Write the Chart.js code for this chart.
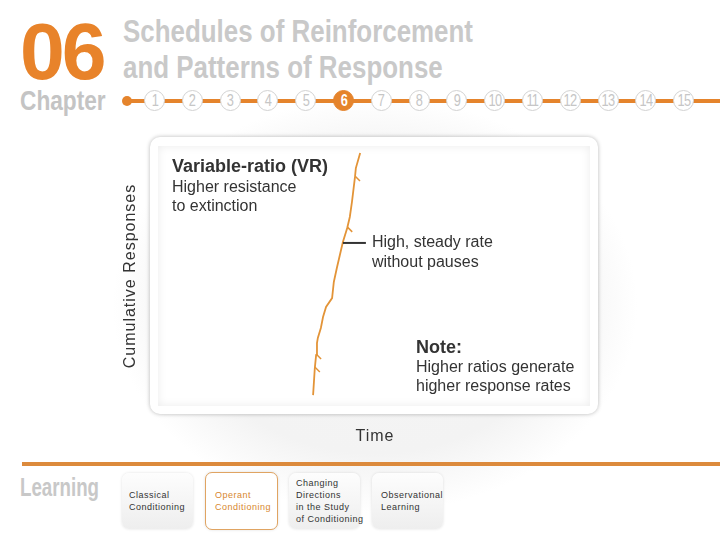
<!DOCTYPE html>
<html>
<head>
<meta charset="utf-8">
<script src="https://cdn.jsdelivr.net/npm/chart.js@4.4.1/dist/chart.umd.min.js"></script>
<style>
  html, body { margin: 0; padding: 0; }
  body { width: 720px; height: 540px; position: relative; overflow: hidden; background: #fff;
         font-family: "Liberation Sans", Arial, sans-serif; }
  .bgshape { position: absolute; left: 110px; top: 95px; width: 530px; height: 420px; border-radius: 50%;
             background: radial-gradient(ellipse at center, #f5f5f5 0%, #f3f3f3 50%, rgba(255,255,255,0) 70%); }
  .big06 { position: absolute; left: 20px; top: 12px; font: bold 79px "Liberation Sans", Arial, sans-serif;
           color: #e8832a; letter-spacing: -3px; line-height: 80px; transform: scaleX(1.02); transform-origin: left; }
  .cond { position: absolute; font-weight: bold; font-family: "Liberation Sans", Arial, sans-serif;
          color: #c9c9c9; white-space: nowrap; transform-origin: left top; }
  .title { left: 123px; font-size: 32px; line-height: 34px; transform: scaleX(0.81); }
  .chapter { left: 20px; top: 85px; font-size: 28px; color: #c4c4c4; transform: scaleX(0.81); }
  .learning { left: 20px; top: 472px; font-size: 26px; color: #c8c8c8; transform: scaleX(0.72); }
  .tline { position: absolute; left: 127px; top: 99px; width: 593px; height: 4px; background: #e5842c; }
  .tdot { position: absolute; left: 122px; top: 96px; width: 10px; height: 10px; border-radius: 50%; background: #e5842c; }
  .num { position: absolute; top: 90px; width: 19px; height: 19px; border-radius: 50%; background: #fff;
         border: 1.5px solid #d2d2d2; color: #c6c6c6; font: 16px "Liberation Sans", sans-serif;
         text-align: center; line-height: 19px; }
  .num span { display: inline-block; transform: scaleX(0.8); letter-spacing: -1px; }
  .num.on { background: #e5842c; border-color: #e5842c; color: #fff; font-weight: bold; }
  .panel { position: absolute; left: 150px; top: 137px; width: 448px; height: 277px; border-radius: 10px;
           background: #fff; box-shadow: 0 0 4px rgba(0,0,0,0.28); }
  .inner { position: absolute; left: 158px; top: 146px; width: 432px; height: 260px;
           background: #fff; box-shadow: inset 0 0 10px #ececec; }
  .fline { position: absolute; left: 22px; top: 462px; width: 698px; height: 4px; background: #dc8a3c; }
  .box { position: absolute; top: 473px; width: 71px; height: 56px; border-radius: 7px;
         background: linear-gradient(#fdfdfd, #eeeeee); box-shadow: 0 0 3px rgba(0,0,0,0.12);
         font: 9px "Liberation Sans", Arial, sans-serif; letter-spacing: 0.5px; color: #333; line-height: 12px;
         box-sizing: border-box; padding: 0 0 0 7px; display: flex; align-items: center; white-space: nowrap; }
  .box.on { background: #fff; border: 1px solid #e0a462; color: #d8872f; padding-left: 9px; }
  #chart { position: absolute; left: 0; top: 0; }
</style>
</head>
<body>
<div class="bgshape"></div>
<div class="big06">06</div>
<div class="cond title" style="top:14px">Schedules of Reinforcement</div>
<div class="cond title" style="top:50px">and Patterns of Response</div>
<div class="cond chapter">Chapter</div>
<div class="tline"></div>
<div class="tdot"></div>
<div id="nums"></div>
<div class="panel"></div>
<div class="inner"></div>
<div class="fline"></div>
<div class="cond learning">Learning</div>
<div class="box" style="left:122px">Classical<br>Conditioning</div>
<div class="box on" style="left:205px; top:472px; height:58px; width:73px">Operant<br>Conditioning</div>
<div class="box" style="left:289px">Changing<br>Directions<br>in the Study<br>of Conditioning</div>
<div class="box" style="left:372px; padding-left:9px">Observational<br>Learning</div>
<canvas id="chart" width="720" height="540"></canvas>
<script>
// cumulative record, variable-ratio schedule
const timeValues = [35.9, 36.3, 36.6, 36.8, 37.0, 37.7, 38.2, 38.9, 40.3, 40.7, 41.4, 42.1, 42.8, 43.8, 44.4, 44.9, 45.6, 45.8, 46.8];
const cumulativeResponses = [4.2, 14.6, 19.6, 24.2, 26.2, 30.0, 34.2, 38.1, 41.5, 47.7, 53.1, 58.1, 63.1, 68.5, 72.7, 78.5, 88.1, 91.5, 97.3];
const reinforcementIdx = [1, 2, 13, 16];
const labelIdx = 12;
const chapterNumbers = [1, 2, 3, 4, 5, 6, 7, 8, 9, 10, 11, 12, 13, 14, 15];
const currentChapter = 6;

// chapter dots
const numsEl = document.getElementById("nums");
chapterNumbers.forEach((n, i) => {
    const d = document.createElement("div");
    d.className = "num" + (n === currentChapter ? " on" : "");
    d.style.left = (144 + i * 37.8) + "px";
    const s = document.createElement("span");
    s.textContent = n;
    d.appendChild(s);
    numsEl.appendChild(d);
});

const annotations = {
    id: "annotations",
    afterDatasetsDraw(chart) {
        const ctx = chart.ctx;
        const area = chart.chartArea;
        const pts = chart.getDatasetMeta(0).data;

        ctx.save();
        // reinforcement hatch marks
        ctx.strokeStyle = "#e39438";
        ctx.lineWidth = 1.5;
        reinforcementIdx.forEach(i => {
            const p = pts[i];
            ctx.beginPath();
            ctx.moveTo(p.x, p.y - 1);
            ctx.lineTo(p.x + 5, p.y + 4);
            ctx.stroke();
        });

        // leader line
        const a = pts[labelIdx];
        ctx.strokeStyle = "#333";
        ctx.lineWidth = 2;
        ctx.beginPath();
        ctx.moveTo(a.x, a.y + 1);
        ctx.lineTo(a.x + 23, a.y + 1);
        ctx.stroke();

        ctx.fillStyle = "#333";
        ctx.textBaseline = "middle";
        ctx.textAlign = "left";
        ctx.font = "bold 18px 'Liberation Sans', Arial, sans-serif";
        ctx.fillText("Variable-ratio (VR)", area.left + 14, area.top + 21);
        ctx.font = "16px 'Liberation Sans', Arial, sans-serif";
        ctx.fillText("Higher resistance", area.left + 14, area.top + 42);
        ctx.fillText("to extinction", area.left + 14, area.top + 61);

        ctx.fillText("High, steady rate", a.x + 29, a.y + 1);
        ctx.fillText("without pauses", a.x + 29, a.y + 21);

        ctx.font = "bold 18px 'Liberation Sans', Arial, sans-serif";
        ctx.fillText("Note:", area.left + 258, area.top + 202);
        ctx.font = "16px 'Liberation Sans', Arial, sans-serif";
        ctx.fillText("Higher ratios generate", area.left + 258, area.top + 222);
        ctx.fillText("higher response rates", area.left + 258, area.top + 241);

        // axis titles
        ctx.letterSpacing = "1px";
        ctx.font = "16px 'Liberation Sans', Arial, sans-serif";
        ctx.textAlign = "center";
        ctx.fillText("Time", (area.left + area.right) / 2 + 1, area.bottom + 31);
        ctx.translate(area.left - 27, (area.top + area.bottom) / 2);
        ctx.rotate(-Math.PI / 2);
        ctx.fillText("Cumulative Responses", 0, 0);
        ctx.restore();
    }
};

new Chart(document.getElementById("chart"), {
    type: "line",
    data: {
        datasets: [{
            label: "VR",
            data: timeValues.map((t, i) => ({ x: t, y: cumulativeResponses[i] })),
            borderColor: "#e39438",
            borderWidth: 1.8,
            pointRadius: 0,
            tension: 0,
            fill: false
        }]
    },
    options: {
        responsive: false,
        animation: false,
        events: [],
        layout: { padding: { left: 158, right: 130, top: 146, bottom: 134 } },
        plugins: { legend: { display: false }, tooltip: { enabled: false } },
        scales: {
            x: { type: "linear", min: 0, max: 100, display: false },
            y: { type: "linear", min: 0, max: 100, display: false }
        }
    },
    plugins: [annotations]
});
</script>
</body>
</html>
